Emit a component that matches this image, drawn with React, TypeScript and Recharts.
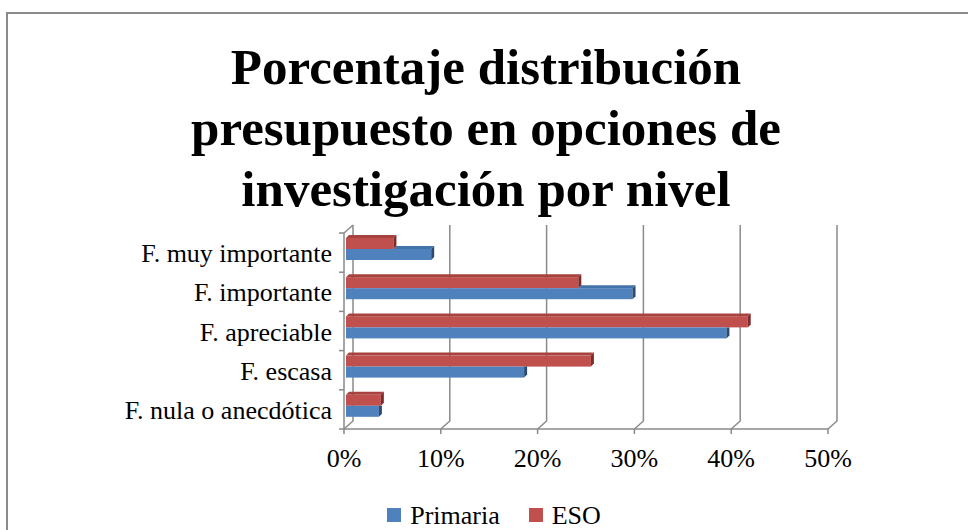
import React from 'react';
import { BarChart, Bar, XAxis, YAxis, CartesianGrid, Legend } from 'recharts';

const categories = ['F. muy importante', 'F. importante', 'F. apreciable', 'F. escasa', 'F. nula o anecdótica'];
const primaria = [8.8, 29.6, 39.3, 18.4, 3.4];
const eso = [4.9, 24.0, 41.5, 25.3, 3.6];
const xTicks = [0, 10, 20, 30, 40, 50];
const titleLines = ['Porcentaje distribución', 'presupuesto en opciones de', 'investigación por nivel'];

const data = categories.map((name, i) => ({ name, primaria: primaria[i], eso: eso[i] }));

const FONT = "'Liberation Serif', 'Times New Roman', serif";
const AXIS = '#8a8a8a';
const BLUE = { front: '#4F81BD', top: '#4473AA', side: '#2B4B74' };
const RED = { front: '#C0504D', top: '#A7423F', side: '#7D2C2A' };
const series = [
  { key: 'primaria', name: 'Primaria', color: BLUE.front },
  { key: 'eso', name: 'ESO', color: RED.front },
];

// 3D look: back wall offset and bar depth
const WALL_DX = 9;
const WALL_DY = 8;
const BAR_DX = 3;
const BAR_DY = 3;
const SHIFT_X = 2;
const SHIFT_Y = -4;
const Y_TICK_MARGIN = 12;

const EsoShape = (props: any) => {
  const { x, y, width, height } = props;
  if (!width) return null;
  const bx = x + SHIFT_X;
  const by = y + SHIFT_Y;
  const xe = bx + width;
  return (
    <g>
      <rect x={bx} y={by} width={width} height={height} fill={RED.front} />
      <polygon points={`${bx},${by} ${bx + BAR_DX},${by - BAR_DY} ${xe + BAR_DX},${by - BAR_DY} ${xe},${by}`} fill={RED.top} />
      <polygon points={`${xe},${by} ${xe + BAR_DX},${by - BAR_DY} ${xe + BAR_DX},${by + height - BAR_DY} ${xe},${by + height}`} fill={RED.side} />
    </g>
  );
};

const PrimariaShape = (props: any) => {
  const { x, y, width, height, payload } = props;
  if (!width) return null;
  const bx = x + SHIFT_X;
  const by = y + SHIFT_Y;
  const xe = bx + width;
  // the ESO bar sits just above and hides part of the top face
  const esoW = payload && payload.primaria ? (payload.eso / payload.primaria) * width : 0;
  const xa = bx + Math.min(esoW, width);
  const hidden = esoW >= width;
  return (
    <g>
      <rect x={bx} y={by} width={width} height={height} fill={BLUE.front} />
      {!hidden && (
        <polygon points={`${xa},${by} ${xa + BAR_DX},${by - BAR_DY} ${xe + BAR_DX},${by - BAR_DY} ${xe},${by}`} fill={BLUE.top} />
      )}
      {hidden ? (
        <polygon points={`${xe},${by} ${xe + BAR_DX},${by} ${xe + BAR_DX},${by + height - BAR_DY} ${xe},${by + height}`} fill={BLUE.side} />
      ) : (
        <polygon points={`${xe},${by} ${xe + BAR_DX},${by - BAR_DY} ${xe + BAR_DX},${by + height - BAR_DY} ${xe},${by + height}`} fill={BLUE.side} />
      )}
    </g>
  );
};

const gridLine = (p: any) => {
  const { x1, y1, y2, index } = p;
  const bx = x1 + WALL_DX;
  return (
    <g key={p.key ?? `g-${index}`}>
      <polyline points={`${bx},${y1 - WALL_DY} ${bx},${y2 - WALL_DY} ${x1},${y2}`} fill="none" stroke={AXIS} strokeWidth={1.5} />
      {index === 0 && <line x1={x1} y1={y1} x2={bx} y2={y1 - WALL_DY} stroke={AXIS} strokeWidth={1.5} />}
    </g>
  );
};

const CategoryTick = (props: any) => {
  const { x, y, payload, index, visibleTicksCount } = props;
  const half = payload && payload.offset ? payload.offset : 0;
  const axisX = x + Y_TICK_MARGIN;
  return (
    <g>
      <text x={x} y={y} dy="0.37em" textAnchor="end" fontFamily={FONT} fontSize={26} fill="#000">
        {payload.value}
      </text>
      <line x1={axisX - 5} y1={y - half} x2={axisX} y2={y - half} stroke={AXIS} strokeWidth={1.5} />
      {index === visibleTicksCount - 1 && (
        <line x1={axisX - 5} y1={y + half} x2={axisX} y2={y + half} stroke={AXIS} strokeWidth={1.5} />
      )}
    </g>
  );
};

const renderLegend = () => (
  <div
    style={{
      display: 'flex',
      justifyContent: 'center',
      alignItems: 'center',
      height: 29,
      lineHeight: '29px',
      paddingLeft: 20,
      fontFamily: FONT,
      fontSize: 26,
      color: '#000',
    }}
  >
    {series.map((s, i) => (
      <span key={s.key} style={{ display: 'inline-flex', alignItems: 'center', marginLeft: i === 0 ? 0 : 29 }}>
        <span style={{ display: 'inline-block', width: 14, height: 14, background: s.color, marginRight: 9, position: 'relative', top: -1 }} />
        {s.name}
      </span>
    ))}
  </div>
);

export default function App() {
  return (
    <div style={{ position: 'absolute', left: 0, top: 0, width: 968, height: 530, overflow: 'hidden', background: '#fff' }}>
      <div
        style={{
          position: 'absolute',
          left: 6,
          top: 12,
          width: 1000,
          height: 1000,
          border: `2px solid ${AXIS}`,
          boxSizing: 'border-box',
        }}
      />
      <svg width={968} height={230} style={{ position: 'absolute', left: 0, top: 0 }}>
        {titleLines.map((line, i) => (
          <text
            key={line}
            x={486}
            y={84 + i * 61}
            textAnchor="middle"
            fontFamily={FONT}
            fontWeight="bold"
            fontSize={51}
            fill="#000"
          >
            {line}
          </text>
        ))}
      </svg>
      <div style={{ position: 'absolute', left: 0, top: 0 }}>
        <BarChart
          width={968}
          height={530}
          data={data}
          layout="vertical"
          margin={{ top: 233, right: 140, bottom: 0, left: 0 }}
          barSize={11}
          barGap={0}
        >
          <CartesianGrid horizontal={false} vertical={gridLine} />
          <XAxis
            type="number"
            domain={[0, 50]}
            ticks={xTicks}
            tickFormatter={(v: number) => `${v}%`}
            height={72}
            tickSize={5}
            tickMargin={15}
            axisLine={{ stroke: AXIS, strokeWidth: 1.5 }}
            tickLine={{ stroke: AXIS, strokeWidth: 1.5 }}
            tick={{ fontFamily: FONT, fontSize: 26, fill: '#000' }}
          />
          <YAxis
            type="category"
            dataKey="name"
            width={344}
            tickSize={0}
            tickMargin={Y_TICK_MARGIN}
            tickLine={false}
            axisLine={{ stroke: AXIS, strokeWidth: 1.5 }}
            tick={<CategoryTick />}
            interval={0}
          />
          <Legend
            verticalAlign="bottom"
            align="center"
            content={renderLegend}
            wrapperStyle={{ left: 0, width: 968 }}
          />
          <Bar dataKey="eso" name="ESO" fill={RED.front} shape={EsoShape} isAnimationActive={false} />
          <Bar dataKey="primaria" name="Primaria" fill={BLUE.front} shape={PrimariaShape} isAnimationActive={false} />
        </BarChart>
      </div>
    </div>
  );
}
